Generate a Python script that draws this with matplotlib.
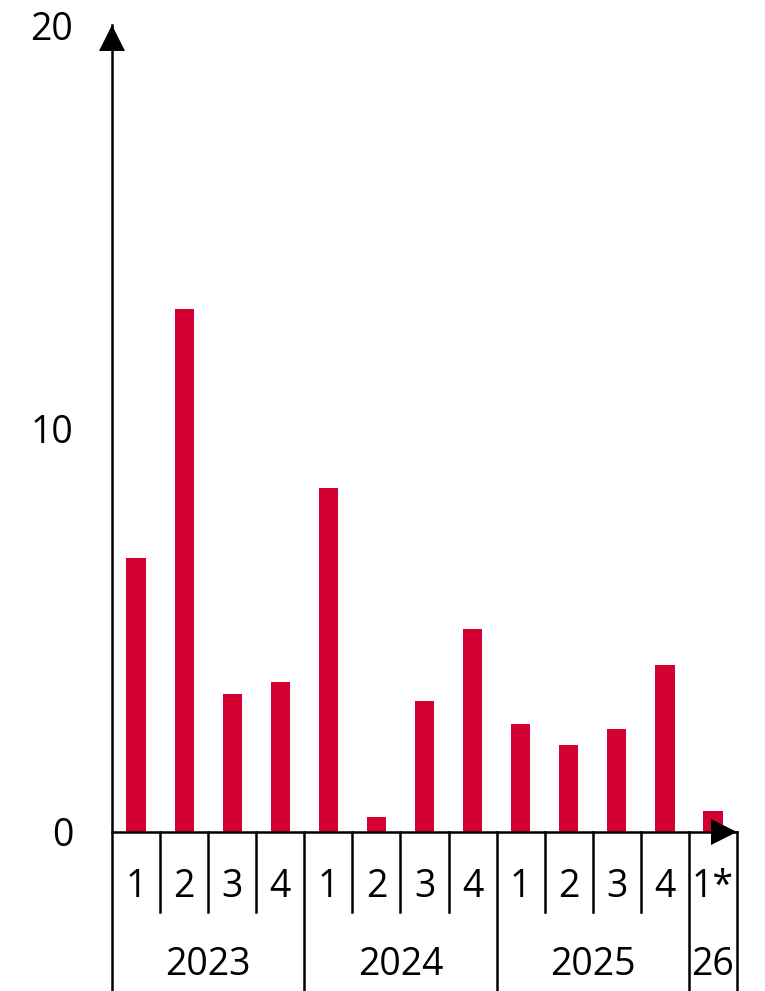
import matplotlib
matplotlib.use('Agg')
import matplotlib.pyplot as plt
from matplotlib import transforms

quarters = ['1', '2', '3', '4', '1', '2', '3', '4', '1', '2', '3', '4', '1*']
years = ['2023', '2024', '2025', '26']
year_sizes = [4, 4, 4, 1]
values = [6.79, 12.95, 3.41, 3.71, 8.53, 0.38, 3.25, 5.03, 2.68, 2.15, 2.55, 4.14, 0.52]

bar_color = '#d40032'
plt.rcParams['font.family'] = ['Open Sans', 'DejaVu Sans']
fs = 27
lw = 1.8

fig = plt.figure(figsize=(7.65, 9.91), dpi=100)
ax = fig.add_axes([112 / 765, 159 / 991, 625 / 765, 807 / 991])

n = len(values)
xs = [i + 0.5 for i in range(n)]
ax.bar(xs, values, width=0.4, color=bar_color, zorder=2)

ax.set_xlim(0, n)
ax.set_ylim(0, 20)
for s in ax.spines.values():
    s.set_visible(False)
ax.set_xticks([])
ax.set_yticks([0, 10, 20])
ax.set_yticklabels(['0', '10', '20'], fontsize=fs)
ax.tick_params(axis='y', length=0, pad=28)

xt = ax.get_xaxis_transform()

# axes lines
ax.plot([0, 0], [-0.25, 1.0], transform=xt, color='black', lw=lw, clip_on=False, zorder=3)
ax.plot([0, n], [0, 0], color='black', lw=lw, clip_on=False, zorder=3)

# arrow heads
up = transforms.offset_copy(ax.transData, fig=fig, x=0, y=-13, units='dots')
right = transforms.offset_copy(ax.transData, fig=fig, x=-13, y=0, units='dots')
ax.plot(0, 20, marker='^', markersize=18.7, color='black', mew=0, transform=up, clip_on=False, zorder=4)
ax.plot(n, 0, marker='>', markersize=18.7, color='black', mew=0, transform=right, clip_on=False, zorder=4)

# category separators
year_edges = [sum(year_sizes[:k + 1]) for k in range(len(year_sizes))]
for i in range(1, n + 1):
    low = -0.25 if i in year_edges else -0.099
    ax.plot([i, i], [0, low], transform=xt, color='black', lw=lw, clip_on=False, zorder=3)

# labels
for x, q in zip(xs, quarters):
    ax.text(x, -0.068, q, transform=xt, ha='center', va='center', fontsize=fs)

start = 0
for y, size in zip(years, year_sizes):
    ax.text(start + size / 2, -0.165, y, transform=xt, ha='center', va='center', fontsize=fs)
    start += size

fig.savefig('out.png', dpi=100)
